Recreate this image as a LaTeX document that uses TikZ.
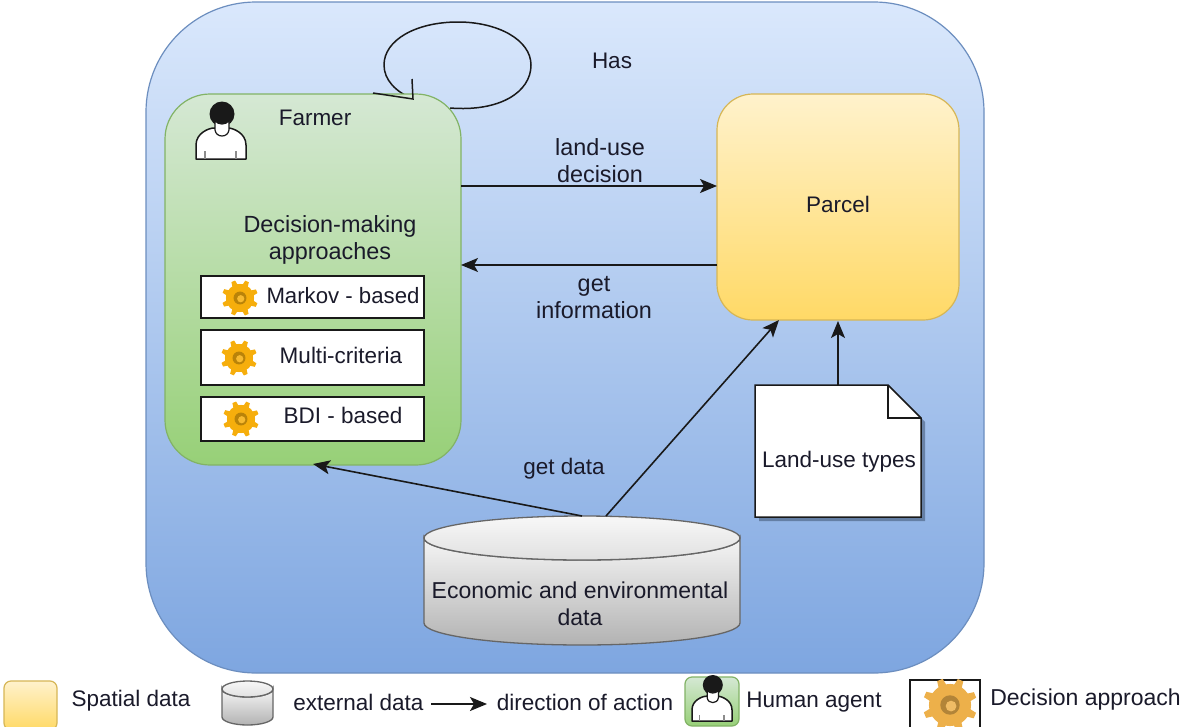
\documentclass[tikz,border=0pt]{standalone}
\usepackage{fontspec}
\setmainfont{Liberation Sans}
\usetikzlibrary{arrows.meta,calc}
\definecolor{txtc}{HTML}{1A1A2A}
\definecolor{gearc}{HTML}{F6AE0C}
\definecolor{gearl}{HTML}{EDB04A}
\definecolor{contTop}{HTML}{DAE8FC}
\definecolor{contBot}{HTML}{7EA6E0}
\definecolor{contLine}{HTML}{6C8EBF}
\definecolor{greenTop}{HTML}{D5E8D4}
\definecolor{greenBot}{HTML}{97D077}
\definecolor{greenLine}{HTML}{82B366}
\definecolor{yelTop}{HTML}{FFF2CC}
\definecolor{yelBot}{HTML}{FFD966}
\definecolor{yelLine}{HTML}{D6B656}
\tikzset{
  every node/.style={inner sep=0pt,outer sep=0pt,text=txtc,font=\fontsize{22.5}{27}\selectfont,align=center},
  bigtxt/.style={font=\fontsize{23.4}{27}\selectfont},
  conn/.style={draw=black!90,line width=1.6pt,-{Stealth[length=17pt,width=14pt,inset=4pt]}},
  contbox/.style={rounded corners=110pt,draw=contLine,line width=1.2pt,top color=contTop,bottom color=contBot},
  farmerbox/.style={rounded corners=#1,draw=greenLine,line width=1.2pt,top color=greenTop,bottom color=greenBot},
  parcelbox/.style={rounded corners=#1,draw=yelLine,line width=1.2pt,top color=yelTop,bottom color=yelBot},
  method/.style={draw=black!90,fill=white,line width=1.5pt},
  cylface/.style={draw=black!60,line width=1.3pt,top color=black!4,bottom color=black!30},
  pics/gear/.style={code={
    \fill[#1] (0,0) circle (0.78);
    \foreach \a in {0,45,...,315}{
      \fill[#1,rotate=\a+22] (-0.16,0.7) -- (-0.11,1) -- (0.11,1) -- (0.16,0.7) -- cycle;
    }
    \fill[#1!75!black] (0,0) circle (0.36);
    \fill[#1!85!white] (0.04,0.04) circle (0.2);
  }},
  pics/person/.style={code={
    \draw[black!90,line width=1.5pt,fill=white,line join=round] (-25,0) -- (-25,-14) .. controls (-25,-26) and (-12,-31) .. (-7,-31) -- (7,-31) .. controls (12,-31) and (25,-26) .. (25,-14) -- (25,0) -- cycle;
    \fill[black!90] (1,-45) circle (12.5);
    \draw[black!90,line width=1.2pt,fill=white] (-6,-38) -- (-6,-29) .. controls (-5,-21) and (7,-21) .. (8,-29) -- (8,-38) .. controls (4,-34) and (-2,-34) .. (-6,-38) -- cycle;
    \draw[black!45,line width=1.2pt] (-16,0) -- (-16,-8) (15,0) -- (15,-8);
  }}
}
\begin{document}
\begin{tikzpicture}[x=1pt,y=-1pt]
\useasboundingbox (0,0) rectangle (1184,726);
\fill[white] (0,0) rectangle (1184,726);
% container
\path[contbox] (146,2) rectangle (984,673);
% self loop (behind the farmer)
\draw[black!90,line width=1.5pt] (450,108) .. controls (500,112) and (531,92) .. (531,65) .. controls (531,40) and (498,22) .. (458,22) .. controls (416,22) and (384,40) .. (384,65) .. controls (384,80) and (396,92) .. (413,99);
% farmer
\path[farmerbox=45pt] (165,94) rectangle (461,465);
\coordinate (farmerE1) at (461,186);
\coordinate (farmerE2) at (461,265);
\coordinate (farmerS) at (313,464);
\draw[black!90,line width=1.5pt,line join=miter] (373,93) -- (413,99) -- (412,79);
\pic at (221,159) {person};
\node (farmerlabel) at (315,118) {Farmer};
\node[bigtxt] (approaches) at (330,240) {Decision-making\\approaches};
% methods
\node[method,minimum width=223pt,minimum height=42pt] (m1) at (312.5,297) {};
\node[method,minimum width=223pt,minimum height=55pt] (m2) at (312.5,357.5) {};
\node[method,minimum width=223pt,minimum height=44pt] (m3) at (312.5,419) {};
\node[font=\fontsize{22.2}{27}\selectfont] (m1t) at (343,296) {Markov - based};
\node (m2t) at (341,355) {Multi-criteria};
\node (m3t) at (343,415) {BDI - based};
\pic[scale=18] at (240,298) {gear=gearc};
\pic[scale=18] at (239,358) {gear=gearc};
\pic[scale=18] at (241,419) {gear=gearc};
% parcel
\path[parcelbox=36pt] (717,94) rectangle (959,320);
\coordinate (parcelW1) at (717,186);
\coordinate (parcelW2) at (717,265);
\coordinate (parcelS1) at (779,320);
\coordinate (parcelS2) at (838,321);
\node (parcel) at (838,204) {Parcel};
% document
\fill[black!50!contBot,opacity=.55] (759,389) -- (892,389) -- (925,422) -- (925,521) -- (759,521) -- cycle;
\draw[black!90,line width=1.5pt,fill=white,line join=miter] (755,385) -- (888,385) -- (921,418) -- (921,517) -- (755,517) -- cycle;
\draw[black!90,line width=1.5pt] (888,385) -- (888,418) -- (921,418);
\coordinate (docN) at (838,385);
\node (doct) at (839,462) {Land-use types};
% database
\path[cylface] (424,538) -- (424,623) arc[start angle=180,end angle=0,x radius=158,y radius=22] -- (740,538) arc[start angle=0,end angle=180,x radius=158,y radius=22] -- cycle;
\path[draw=black!60,line width=1.3pt,top color=black!3,bottom color=black!12] (582,538) ellipse[x radius=158,y radius=22];
\coordinate (dbN1) at (582,516);
\coordinate (dbN2) at (606,516);
\node[font=\fontsize{23}{27}\selectfont] (dbt) at (580,603.5) {Economic and environmental\\data};
% connectors
\draw[conn] (farmerE1) -- (parcelW1);
\draw[conn] (parcelW2) -- (farmerE2);
\draw[conn] (dbN1) -- (farmerS);
\draw[conn] (dbN2) -- (parcelS1);
\draw[conn] (docN) -- (parcelS2);
% labels
\node (has) at (612,61) {Has};
\node[bigtxt] (lud) at (600,160.5) {land-use\\decision};
\node[bigtxt] (gi) at (594,298) {get\\information};
\node (gd) at (564,469) {get data};
% legend
\path[parcelbox=7pt] (4,681) rectangle (57,730);
\node (l1) at (131,701) {Spatial data};
\begin{scope}
\clip (200,670) rectangle (300,726);
\path[cylface] (222,689) -- (222,717) arc[start angle=180,end angle=0,x radius=25.5,y radius=8] -- (273,689) arc[start angle=0,end angle=180,x radius=25.5,y radius=8] -- cycle;
\path[draw=black!60,line width=1.3pt,top color=black!3,bottom color=black!12] (247.5,689) ellipse[x radius=25.5,y radius=8];
\end{scope}
\node (l2) at (358.5,702) {external data};
\coordinate (arrowA) at (431,704);
\coordinate (arrowB) at (487,704);
\draw[conn] (arrowA) -- (arrowB);
\node (l3) at (585,702) {direction of action};
\path[farmerbox=7pt] (685,677) rectangle (739,726);
\pic[scale=.8] at (712,721) {person};
\node (l4) at (814,702) {Human agent};
\begin{scope}
\clip (900,670) rectangle (1000,726);
\draw[black!90,line width=1.5pt,fill=white] (910,680) rectangle (980,740);
\pic[scale=27] at (950,705) {gear=gearl};
\end{scope}
\node[font=\fontsize{23}{27}\selectfont] (l5) at (1085.5,700) {Decision approach};
\end{tikzpicture}
\end{document}
